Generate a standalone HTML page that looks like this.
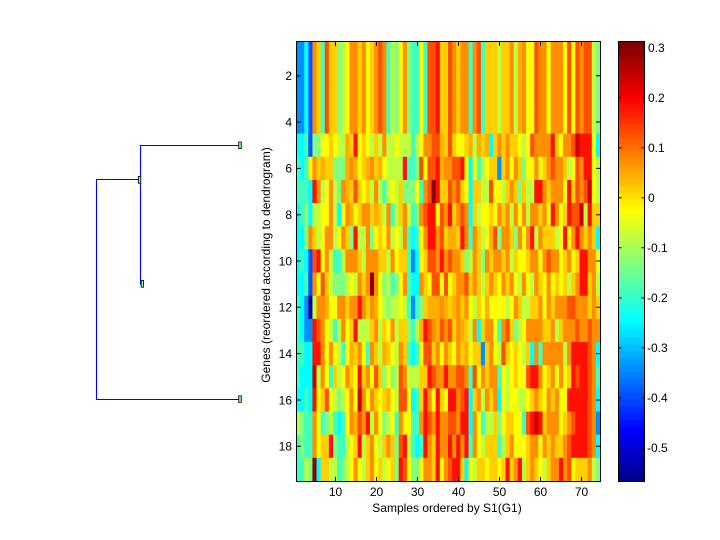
<!DOCTYPE html>
<html>
<head>
<meta charset="utf-8">
<style>
html,body{margin:0;padding:0;background:#fff;}
svg{display:block;font-family:"Liberation Sans",Arial,sans-serif;font-size:12px;}
</style>
</head>
<body>
<svg width="720" height="540" viewBox="0 0 720 540">
<rect x="0" y="0" width="720" height="540" fill="#fff"/>
<g id="hm"><rect x="296" y="41" width="304" height="440" fill="#ffb000"/></g>
<g id="cb"><rect x="618" y="41" width="26" height="440" fill="#80ff80"/></g>

<!-- heatmap axes border -->
<rect x="296.5" y="41.5" width="304" height="440" fill="none" stroke="#000" stroke-width="1"/>
<g stroke="#000" stroke-width="1">
  <path d="M335.5 481V477M376.5 481V477M417.5 481V477M458.5 481V477M499.5 481V477M540.5 481V477M581.5 481V477"/>
  <path d="M335.5 42V46M376.5 42V46M417.5 42V46M458.5 42V46M499.5 42V46M540.5 42V46M581.5 42V46"/>
  <path d="M297 75.7H301M297 122H301M297 168.4H301M297 214.7H301M297 261H301M297 307.3H301M297 353.6H301M297 400H301M297 446.3H301"/>
  <path d="M600 75.7H596M600 122H596M600 168.4H596M600 214.7H596M600 261H596M600 307.3H596M600 353.6H596M600 400H596M600 446.3H596"/>
</g>
<g fill="#000" text-anchor="end">
  <text x="292" y="80">2</text>
  <text x="292" y="126.3">4</text>
  <text x="292" y="172.7">6</text>
  <text x="292" y="219">8</text>
  <text x="292" y="265.3">10</text>
  <text x="292" y="311.6">12</text>
  <text x="292" y="357.9">14</text>
  <text x="292" y="404.3">16</text>
  <text x="292" y="450.6">18</text>
</g>
<g fill="#000" text-anchor="middle">
  <text x="335.5" y="496">10</text>
  <text x="376.5" y="496">20</text>
  <text x="417.5" y="496">30</text>
  <text x="458.5" y="496">40</text>
  <text x="499.5" y="496">50</text>
  <text x="540.5" y="496">60</text>
  <text x="581.5" y="496">70</text>
  <text x="447" y="512">Samples ordered by S1(G1)</text>
  <text transform="translate(270,265) rotate(-90)" x="0" y="0">Genes (reordered according to dendrogram)</text>
</g>

<!-- colorbar border and ticks -->
<rect x="618.5" y="41.5" width="26" height="440" fill="none" stroke="#000" stroke-width="1"/>
<g stroke="#000" stroke-width="1">
  <path d="M619 47.7H621.5M619 97.8H621.5M619 147.8H621.5M619 197.8H621.5M619 247.8H621.5M619 297.9H621.5M619 347.9H621.5M619 397.9H621.5M619 447.9H621.5"/>
  <path d="M644 47.7H641.5M644 97.8H641.5M644 147.8H641.5M644 197.8H641.5M644 247.8H641.5M644 297.9H641.5M644 347.9H641.5M644 397.9H641.5M644 447.9H641.5"/>
</g>
<g fill="#000" text-anchor="start">
  <text x="648" y="52">0.3</text>
  <text x="648" y="102.1">0.2</text>
  <text x="648" y="152.1">0.1</text>
  <text x="648" y="202.1">0</text>
  <text x="647" y="252.1">-0.1</text>
  <text x="647" y="302.2">-0.2</text>
  <text x="647" y="352.2">-0.3</text>
  <text x="647" y="402.2">-0.4</text>
  <text x="647" y="452.2">-0.5</text>
</g>

<!-- dendrogram -->
<g fill="none" stroke="#0000ff" stroke-width="1.1">
  <path d="M240.3 145.5H140.5V284.5"/>
  <path d="M140.5 179.5H96.5V399.5H240.3"/>
</g>
<g fill="#80ff80" stroke="#000" stroke-width="0.8">
  <rect x="238.7" y="142" width="2.6" height="6.6"/>
  <rect x="138.4" y="176.4" width="2.4" height="6.8"/>
  <rect x="141.1" y="280.4" width="2.5" height="6.8"/>
  <rect x="238.7" y="395.8" width="2.6" height="6.6"/>
</g>
</svg>
<script>
(function(){
  var u=function(k){return (k<0||k>46)?0:(k<16?(k+1)/16:(k<31?1:(47-k)/16));};
  function jet(i){
    var r=i>=25?u(i-25):0,g=(i>=9&&i<=55)?u(i-9):0,b=i<=39?u(i+7):0;
    return 'rgb('+Math.round(r*255)+','+Math.round(g*255)+','+Math.round(b*255)+')';
  }
  var M={N:2,B:13,b:17,c:24,t:28,g:32,l:36,y:40,Y:43,o:45,O:47,r:51,R:55,d:59,D:63};
  var top="bbcBOYtrYYglyOOYOyYOrOtlg"+"yOgttytrrRYYrOYOOtOrtYYYl"+"YYOloOyyrOOyOOOyryrOrrlg";
  var R=[
    top,top,top,top,
    "cctBggyyYylloYRyYylYlOlly"+"llltlyOOrroYrYyyYoloYocYO"+"YOYYylyrOOOORYyOOrdRRRyc",
    "tctyOYoYYgggoOoyYoOYoylll"+"lRttgryrrRoOOrrRycytlyYYb"+"YOyOYgyyOyYOrOOYlyrORRyl",
    "tttcROlyOlgOoYrYyYlOltlyl"+"YgggytOrDRYYrOrYycYYllryy"+"lYOYgYllRROYOOOyRYrOrdyl",
    "ctgcllyyOlcyOoyYOOYoYlOtl"+"YOltgOrRRyrORYOrOcYlyyYyO"+"YOlOyOlOOYOyROyYRrrdlRYY",
    "ccgOYlyOOlyOYgRllOgyYyOly"+"lOtctyORROrYooYROtOYlyorg"+"OOYgOyORlOYYYlyRyOROYOYc",
    "ctcBrRyOlttlOOOYlOOOYYlOy"+"YYtbcyYrrOROrOOYglOYgOYOO"+"YOlYyyYOOyOrOOyYOyYRROOy",
    "cctBOyrYlggglylOYODOygltg"+"yOtccOYyrryryYOOrYOYlYOYy"+"OYOylOylOYyOyYyYlYORRYOl",
    "tcbNlOOoyyOOYOOROYOoylgll"+"yltbtgYoooOoYoOYOylYyoyyy"+"ylyOYllYYOyOYOOOrrOOOYOY",
    "tcbbRrOyltlOyYRlllYOlYyOl"+"YYgtloRrOorOrYOoYlOcYOOyt"+"OrYglyOOOOYYOlYOOOrOOrOO",
    "ttccRROyOyltyoYOytOYloYyl"+"OYtctyrrYOyOYyOYoyYYbYOyl"+"rYyYylYcOtOOOOOlORRRRrOc",
    "tcccdlOytYlyOYyRYOyrYgygl"+"rOlllYYRrOOROOrrOtryOYOOt"+"ylyYyyrRROyYOyOyYRrRRrOt",
    "cctcRyYrylglyOydOyOYyYoyl"+"rryctYROyRYyRROrRcYOlOYOc"+"ylyyllyYOYyOYOyyRRRRRrOc",
    "lgttOytgltctyOorORlOyglyt"+"OyyttORrOROOrrORRcOytllYg"+"yYYyytrRdRYOOOyYOrRRRrOb",
    "tgttOyYYRgttlyYRlYOylYOYg"+"rRltctROYROORORORtOylYYYt"+"lYOyyyYOOyOYOYYOrRRRRrOc",
    "ttlgDcYYlltglyOylYOyYlyYg"+"RryggyOOYRyOrRRYcylYYyYYy"+"YRYORlYOYylYOOROryYYYOlg"
  ];
  var cw=304/74, rh=440/19, s='';
  for(var r=0;r<19;r++){
    var row=R[r]||top;
    for(var c=0;c<74;c++){
      var ch=row.charAt(c)||'Y';
      var x=296+c*cw, y=41+r*rh;
      s+='<rect x="'+x.toFixed(2)+'" y="'+y.toFixed(2)+'" width="'+(cw+0.6).toFixed(2)+'" height="'+(rh+0.6).toFixed(2)+'" fill="'+jet(M[ch]||43)+'"/>';
    }
  }
  document.getElementById('hm').innerHTML=s;
  var t='', bh=440.5/64;
  for(var i=1;i<=64;i++){
    var yy=481.5-i*bh;
    t+='<rect x="618" y="'+yy.toFixed(2)+'" width="26.5" height="'+(bh+0.5).toFixed(2)+'" fill="'+jet(i)+'"/>';
  }
  document.getElementById('cb').innerHTML=t;
})();
</script>
</body>
</html>
